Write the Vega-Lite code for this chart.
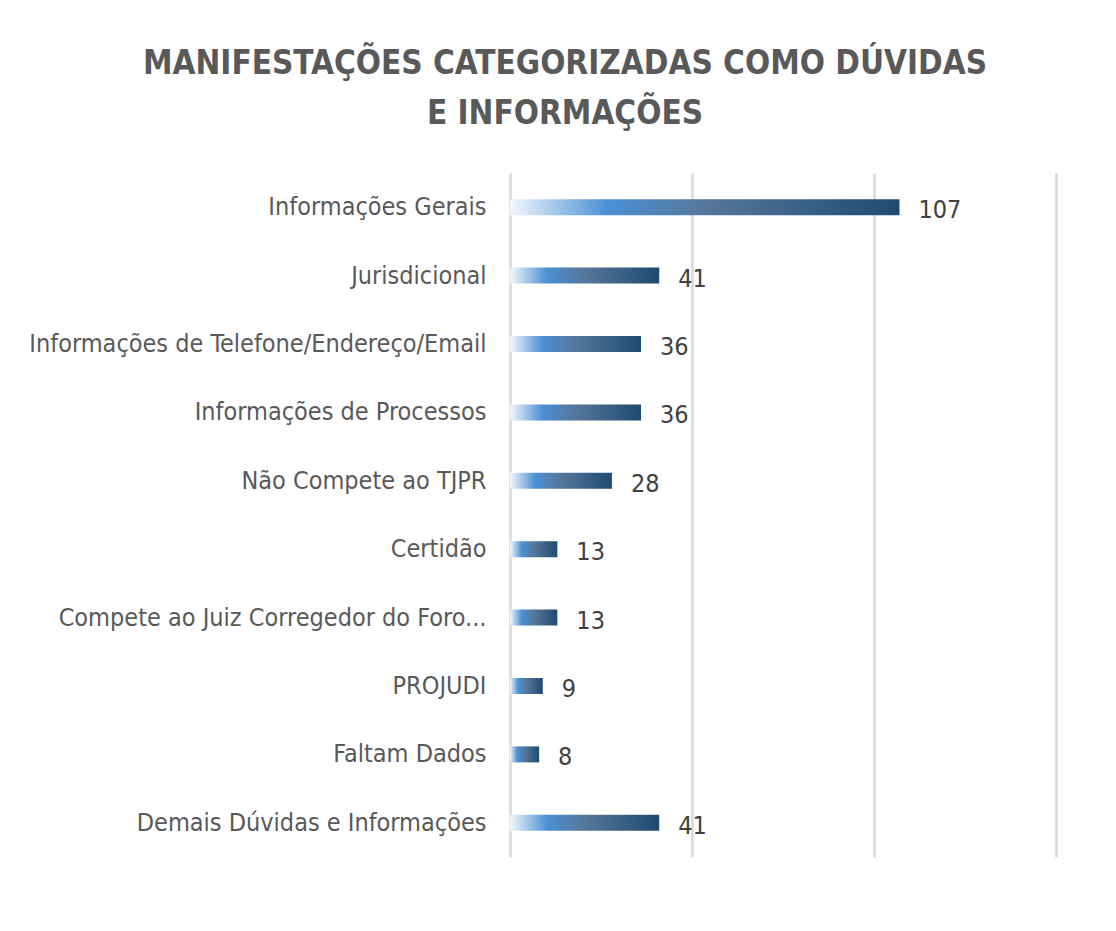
{
  "$schema": "https://vega.github.io/schema/vega-lite/v6.json",
  "width": 546,
  "height": 684,
  "autosize": {"type": "none"},
  "padding": {"left": 510, "top": 173, "right": 60, "bottom": 74},
  "background": "white",
  "title": {
    "text": ["MANIFESTAÇÕES CATEGORIZADAS COMO DÚVIDAS", "E INFORMAÇÕES"],
    "anchor": "middle",
    "frame": "group",
    "dx": -218,
    "offset": 42,
    "lineHeight": 50,
    "font": "DejaVu Sans Condensed, Open Sans, sans-serif",
    "fontSize": 33,
    "fontWeight": "bold",
    "color": "#595959"
  },
  "data": {
    "values": [
      {"categoria": "Informações Gerais", "total": 107},
      {"categoria": "Jurisdicional", "total": 41},
      {"categoria": "Informações de Telefone/Endereço/Email", "total": 36},
      {"categoria": "Informações de Processos", "total": 36},
      {"categoria": "Não Compete ao TJPR", "total": 28},
      {"categoria": "Certidão", "total": 13},
      {"categoria": "Compete ao Juiz Corregedor do Foro...", "total": 13},
      {"categoria": "PROJUDI", "total": 9},
      {"categoria": "Faltam Dados", "total": 8},
      {"categoria": "Demais Dúvidas e Informações", "total": 41}
    ]
  },
  "encoding": {
    "y": {
      "field": "categoria",
      "type": "nominal",
      "sort": null,
      "title": null,
      "scale": {"paddingInner": 0.766, "paddingOuter": 0.383},
      "axis": {
        "domain": false,
        "ticks": false,
        "labelPadding": 24,
        "labelLimit": 600,
        "labelFont": "DejaVu Sans Condensed, Open Sans, sans-serif",
        "labelFontSize": 25,
        "labelColor": "#595959"
      }
    },
    "x": {
      "field": "total",
      "type": "quantitative",
      "title": null,
      "scale": {"domain": [0, 150]},
      "axis": {
        "values": [0, 50, 100, 150],
        "labels": false,
        "ticks": false,
        "domain": false,
        "grid": true,
        "gridColor": "#d9d9d9",
        "gridWidth": 2.5
      }
    }
  },
  "layer": [
    {
      "mark": {
        "type": "bar",
        "color": {
          "gradient": "linear",
          "x1": 0, "y1": 0, "x2": 1, "y2": 0,
          "stops": [
            {"offset": 0, "color": "#f2f7fc"},
            {"offset": 0.25, "color": "#4a90d4"},
            {"offset": 0.5, "color": "#56779a"},
            {"offset": 1, "color": "#1f4a72"}
          ]
        }
      }
    },
    {
      "mark": {
        "type": "text",
        "align": "left",
        "baseline": "middle",
        "dx": 19,
        "dy": 3,
        "font": "DejaVu Sans Condensed, Open Sans, sans-serif",
        "fontSize": 25,
        "color": "#404040"
      },
      "encoding": {"text": {"field": "total", "type": "quantitative"}}
    }
  ],
  "config": {"view": {"stroke": null}}
}
